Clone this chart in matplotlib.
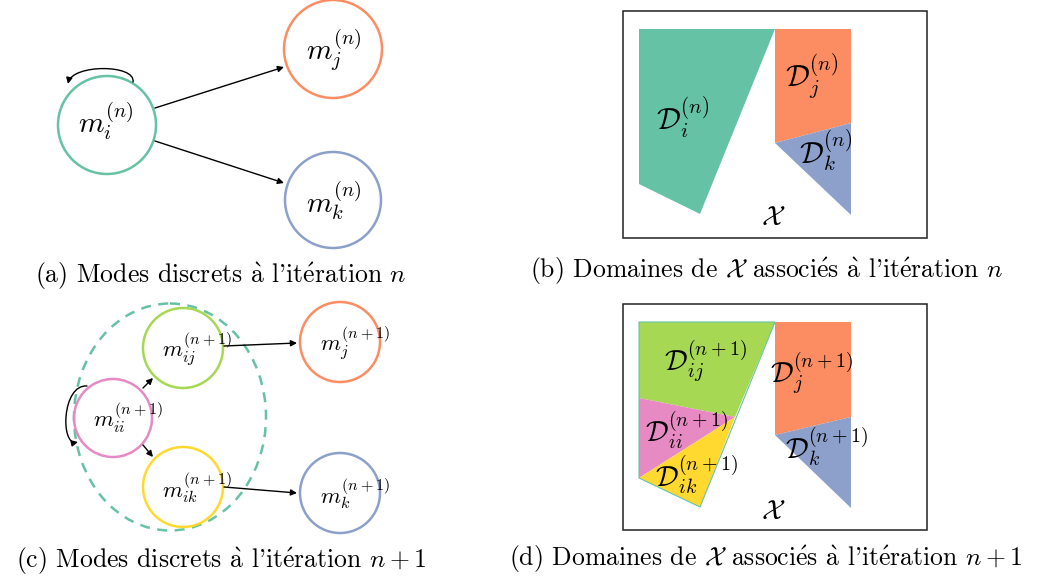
import matplotlib
matplotlib.use("Agg")
import matplotlib.pyplot as plt
from matplotlib.patches import Circle, Ellipse, Polygon, Rectangle, FancyArrowPatch
from matplotlib.path import Path

plt.rcParams['mathtext.fontset'] = 'cm'
plt.rcParams['font.family'] = ['cmr10', 'DejaVu Serif']
plt.rcParams['axes.unicode_minus'] = False

# ---- palette (Set2) ----
C_I = '#66c2a5'; C_J = '#fc8d62'; C_K = '#8da0cb'
C_II = '#e78ac3'; C_IJ = '#a6d854'; C_IK = '#ffd92f'

# ---- panel (a): nodes ----
a_labels = [r'$m_i^{(n)}$', r'$m_j^{(n)}$', r'$m_k^{(n)}$']
a_colors = [C_I, C_J, C_K]
a_centers = [(107, 125), (333, 49), (333, 200)]
a_radius = [49, 49, 48]
a_label_pos = [(106, 121), (334, 50), (334, 201)]
a_edges = [((155, 108), (284, 67)), ((155, 141), (284, 183))]

# ---- panel (b): domains ----
b_polys = [
    [(639, 29), (775, 29), (700, 214), (639, 184)],
    [(775, 29), (851, 29), (851, 123), (775, 143)],
    [(775, 143), (851, 123), (851, 215)],
]
b_colors = [C_I, C_J, C_K]
b_labels = [r'$\mathcal{D}_i^{(n)}$', r'$\mathcal{D}_j^{(n)}$', r'$\mathcal{D}_k^{(n)}$']
b_label_pos = [(683, 117), (812, 76), (826, 150)]
b_box = (623, 11, 927, 238)

# ---- panel (c): nodes ----
c_labels = [r'$m_{ij}^{(n+1)}$', r'$m_{ii}^{(n+1)}$', r'$m_{ik}^{(n+1)}$',
            r'$m_{j}^{(n+1)}$', r'$m_{k}^{(n+1)}$']
c_colors = [C_IJ, C_II, C_IK, C_J, C_K]
c_centers = [(183, 348), (113, 418), (183, 487), (340, 342), (340, 493)]
c_radius = [40, 39, 40, 40, 40]
c_label_pos = [(197, 349), (128, 418), (197, 488), (355, 343), (355, 494)]
c_edges = [((224, 346), (297, 343)), ((224, 487), (297, 493)),
           ((143, 388), (153, 378)), ((143, 445), (153, 457))]
c_group = (170, 417, 192, 227)

# ---- panel (d): domains ----
d_polys = [
    [(639, 322), (775, 322), (735, 417), (639, 398)],
    [(639, 398), (735, 417), (639, 478)],
    [(639, 478), (735, 417), (700, 507)],
    [(775, 322), (851, 322), (851, 417), (775, 435)],
    [(775, 435), (851, 417), (851, 508)],
]
d_colors = [C_IJ, C_II, C_IK, C_J, C_K]
d_outline = [(639, 322), (775, 322), (700, 507), (639, 478)]
d_labels = [r'$\mathcal{D}_{ij}^{(n+1)}$', r'$\mathcal{D}_{ii}^{(n+1)}$',
            r'$\mathcal{D}_{ik}^{(n+1)}$', r'$\mathcal{D}_{j}^{(n+1)}$',
            r'$\mathcal{D}_{k}^{(n+1)}$']
d_label_pos = [(706, 361), (687, 430), (697, 475), (812, 373), (827, 447)]
d_box = (623, 304, 927, 530)

A_GRAVE = r'$\mathrm{\grave{a}}$'
E_ACUTE = r'$\mathrm{\acute{e}}$'
captions = [
    ("(a) Modes discrets " + A_GRAVE + " l'it" + E_ACUTE + "ration $n$", (221, 276)),
    ("(b) Domaines de $\\mathcal{X}$ associ" + E_ACUTE + "s " + A_GRAVE
     + " l'it" + E_ACUTE + "ration $n$", (767, 271)),
    ("(c) Modes discrets " + A_GRAVE + " l'it" + E_ACUTE + "ration $n+1$", (221, 561)),
    ("(d) Domaines de $\\mathcal{X}$ associ" + E_ACUTE + "s " + A_GRAVE
     + " l'it" + E_ACUTE + "ration $n+1$", (766, 559)),
]

fig = plt.figure(figsize=(10.46, 5.84), dpi=100)
ax = fig.add_axes([0, 0, 1, 1])
ax.set_xlim(0, 1046)
ax.set_ylim(584, 0)
ax.axis('off')

def arrow(p0, p1, ms=9):
    ax.add_patch(FancyArrowPatch(p0, p1, arrowstyle='-|>', mutation_scale=ms,
                                 color='black', lw=1.0, shrinkA=0, shrinkB=0))

def curved(points, ms=9):
    path = Path(points, [Path.MOVETO, Path.CURVE4, Path.CURVE4, Path.CURVE4])
    ax.add_patch(FancyArrowPatch(path=path, arrowstyle='-|>', mutation_scale=ms,
                                 color='black', lw=1.0))

# panel (a)
for (cx, cy), r, col in zip(a_centers, a_radius, a_colors):
    ax.add_patch(Circle((cx, cy), r, fill=False, ec=col, lw=1.8))
for lab, (x, y) in zip(a_labels, a_label_pos):
    ax.text(x, y, lab, fontsize=21, ha='center', va='center')
for p0, p1 in a_edges:
    arrow(p0, p1)
curved([(133, 82), (136, 64), (72, 64), (68, 84)])

# panel (b)
ax.add_patch(Rectangle((b_box[0], b_box[1]), b_box[2] - b_box[0], b_box[3] - b_box[1],
                       fill=False, ec='#222222', lw=1.1))
for poly, col in zip(b_polys, b_colors):
    ax.add_patch(Polygon(poly, closed=True, fc=col, ec='none'))
for lab, (x, y) in zip(b_labels, b_label_pos):
    ax.text(x, y, lab, fontsize=21.5, ha='center', va='center')
ax.text(773, 218, r'$\mathcal{X}$', fontsize=20, ha='center', va='center')

# panel (c)
gx, gy, gw, gh = c_group
ax.add_patch(Ellipse((gx, gy), gw, gh, fill=False, ec=C_I, lw=1.8, ls=(0, (4, 3))))
for (cx, cy), r, col in zip(c_centers, c_radius, c_colors):
    ax.add_patch(Circle((cx, cy), r, fill=False, ec=col, lw=1.8))
for lab, (x, y) in zip(c_labels, c_label_pos):
    ax.text(x, y, lab, fontsize=16.5, ha='center', va='center')
for p0, p1 in c_edges:
    arrow(p0, p1)
curved([(87, 386), (62, 384), (60, 446), (78, 442)])

# panel (d)
ax.add_patch(Rectangle((d_box[0], d_box[1]), d_box[2] - d_box[0], d_box[3] - d_box[1],
                       fill=False, ec='#222222', lw=1.1))
for poly, col in zip(d_polys, d_colors):
    ax.add_patch(Polygon(poly, closed=True, fc=col, ec='none'))
ax.add_patch(Polygon(d_outline, closed=True, fill=False, ec=C_I, lw=0.8))
for lab, (x, y) in zip(d_labels, d_label_pos):
    ax.text(x, y, lab, fontsize=20.5, ha='center', va='center')
ax.text(773, 512, r'$\mathcal{X}$', fontsize=20, ha='center', va='center')

for txt, (x, y) in captions:
    ax.text(x, y, txt, fontsize=18.5, ha='center', va='center')

fig.savefig('out.png', dpi=100)
